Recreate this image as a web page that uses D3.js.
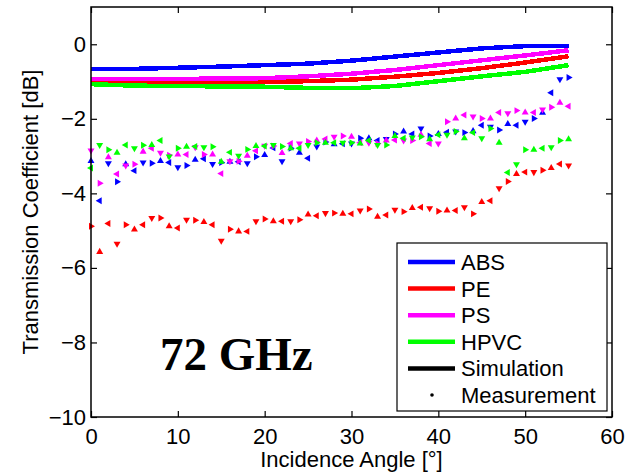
<!DOCTYPE html>
<html>
<head>
<meta charset="utf-8">
<script src="https://cdn.jsdelivr.net/npm/d3@7"></script>
<style>
  body { margin: 0; background: #fff; }
  svg { display: block; font-family: "Liberation Sans", Arial, Helvetica, sans-serif; }
</style>
</head>
<body>
<svg id="chart" width="628" height="472"></svg>
<script>
// Measured transmission, one sample per degree of incidence (0..55°)
const measAngles = d3.range(0, 56);

const absMeas = [-3.13, -4.20, -3.19, -3.69, -3.22, -3.39, -3.17, -3.19, -3.13, -3.17,
                 -3.30, -3.25, -3.10, -3.07, -3.21, -3.17, -3.15, -3.15, -3.19, -3.02,
                 -2.97, -2.78, -3.14, -2.79, -2.91, -3.06, -2.74, -2.62, -2.68, -2.67,
                 -2.66, -2.52, -2.52, -2.58, -2.54, -2.41, -2.34, -2.41, -2.26, -2.46,
                 -2.41, -2.36, -2.34, -2.37, -2.33, -2.17, -2.21, -2.30, -2.14, -2.17,
                 -2.08, -1.99, -1.84, -1.30, -0.94, -0.89];

const peMeas = [-4.88, -5.57, -4.81, -5.35, -4.84, -4.97, -4.84, -4.66, -4.66, -4.88,
                -4.93, -4.71, -4.72, -4.77, -4.84, -5.27, -4.96, -5.02, -5.02, -4.75,
                -4.69, -4.75, -4.75, -4.75, -4.71, -4.57, -4.60, -4.53, -4.53, -4.55,
                -4.55, -4.46, -4.42, -4.63, -4.58, -4.44, -4.49, -4.39, -4.37, -4.40,
                -4.48, -4.46, -4.46, -4.37, -4.55, -4.23, -4.20, -3.86, -3.68, -3.48,
                -3.43, -3.43, -3.38, -3.32, -3.21, -3.25];

const psMeas = [-2.85, -3.73, -3.03, -3.48, -3.25, -3.22, -2.88, -2.79, -2.91, -2.98,
                -2.96, -2.96, -2.76, -2.96, -2.96, -3.47, -3.14, -3.14, -2.99, -2.86,
                -2.72, -2.73, -2.92, -2.66, -2.66, -2.61, -2.58, -2.54, -2.48, -2.46,
                -2.48, -2.64, -2.64, -2.66, -2.58, -2.57, -2.58, -2.58, -2.43, -2.66,
                -2.66, -2.08, -1.99, -1.90, -1.94, -1.99, -1.99, -1.83, -1.85, -1.78,
                -1.83, -1.83, -1.75, -1.69, -1.57, -1.66];

const hpvcMeas = [-3.32, -2.70, -2.83, -2.91, -2.70, -2.79, -2.71, -2.70, -2.58, -3.01,
                  -2.79, -2.75, -2.74, -2.76, -2.75, -3.15, -2.90, -2.99, -2.82, -2.73,
                  -2.73, -2.70, -2.74, -2.79, -2.79, -2.70, -2.64, -2.64, -2.64, -2.64,
                  -2.64, -2.66, -2.58, -2.70, -2.70, -2.46, -2.52, -2.50, -2.48, -2.55,
                  -2.43, -2.43, -2.34, -2.52, -2.37, -2.52, -2.26, -2.64, -3.44, -3.22,
                  -2.83, -2.83, -2.79, -2.76, -2.58, -2.55];

// Simulated transmission
const simAngles = [0, 5, 10, 15, 20, 25, 30, 35, 40, 45, 50, 55];
const absSim  = [-0.67, -0.66, -0.63, -0.60, -0.56, -0.52, -0.44, -0.33, -0.22, -0.11, -0.05, -0.05];
const peSim   = [-1.00, -1.00, -1.01, -1.01, -1.01, -0.99, -0.95, -0.87, -0.77, -0.64, -0.49, -0.32];
const psSim   = [-0.93, -0.93, -0.93, -0.92, -0.91, -0.86, -0.79, -0.69, -0.56, -0.43, -0.30, -0.16];
const hpvcSim = [-1.07, -1.11, -1.12, -1.13, -1.14, -1.17, -1.18, -1.12, -0.99, -0.86, -0.74, -0.56];

const materials = ["ABS", "PE", "PS", "HPVC"];
const colors = ["#0000ff", "#ff0000", "#ff00ff", "#00ff00"];
const simValues = [absSim, peSim, psSim, hpvcSim];
const measValues = [absMeas, peMeas, psMeas, hpvcMeas];

const xTicks = [0, 10, 20, 30, 40, 50, 60];
const yTicks = [0, -2, -4, -6, -8, -10];

const svg = d3.select("#chart");
const x = d3.scaleLinear().domain([0, 60]).range([91, 612]);
const y = d3.scaleLinear().domain([-10, 1]).range([417, 7]);
const FS = 22;
const SANS = '"Liberation Sans", Arial, Helvetica, sans-serif';

// Simulation curves (thick, aliased like the original plot)
const line = d3.line().x(d => x(d[0])).y(d => y(d[1]));
materials.forEach((m, i) => {
  svg.append("path")
    .datum(simAngles.map((a, k) => [a, simValues[i][k]]))
    .attr("d", line)
    .attr("fill", "none")
    .attr("stroke", colors[i])
    .attr("stroke-width", 4.5)
    .attr("shape-rendering", "crispEdges");
});

// Measurement markers: small triangles in alternating orientations
const tri = d3.symbol().type(d3.symbolTriangle).size(21)();
const rotations = [0, 90, 180, 270];
materials.forEach((m, i) => {
  svg.append("g").selectAll("path")
    .data(measAngles.map((a, k) => [a, measValues[i][k], k]))
    .join("path")
    .attr("d", tri)
    .attr("transform", d => `translate(${x(d[0])},${y(d[1])}) rotate(${rotations[(d[2] * 3 + i) % 4]})`)
    .attr("fill", colors[i]);
});

// Axes with inward ticks on all four sides
function styleAxis(g) {
  g.select(".domain").remove();
  g.attr("font-family", null).attr("font-size", null);
  g.selectAll(".tick line").attr("stroke", "#000").attr("stroke-width", 1.2);
  g.selectAll(".tick text").style("font-size", FS + "px").style("font-family", SANS).attr("fill", "#000");
}
svg.append("g").attr("transform", "translate(0,417)")
  .call(d3.axisBottom(x).tickValues(xTicks).tickSize(-6).tickPadding(11).tickFormat(d3.format("d")))
  .call(styleAxis);
svg.append("g").attr("transform", "translate(0,7)")
  .call(d3.axisTop(x).tickValues(xTicks).tickSize(-6).tickFormat(""))
  .call(styleAxis);
svg.append("g").attr("transform", "translate(91,0)")
  .call(d3.axisLeft(y).tickValues(yTicks).tickSize(-6).tickPadding(5).tickFormat(d3.format("d")))
  .call(styleAxis);
svg.append("g").attr("transform", "translate(612,0)")
  .call(d3.axisRight(y).tickValues(yTicks).tickSize(-6).tickFormat(""))
  .call(styleAxis);

// Plot frame
svg.append("rect")
  .attr("x", x(0)).attr("y", y(1))
  .attr("width", x(60) - x(0)).attr("height", y(-10) - y(1))
  .attr("fill", "none").attr("stroke", "#000").attr("stroke-width", 1.5);

// Axis titles
svg.append("text")
  .attr("x", (x(0) + x(60)) / 2).attr("y", 467)
  .attr("text-anchor", "middle").style("font-size", FS + "px").style("font-family", SANS)
  .text("Incidence Angle [°]");
svg.append("text")
  .attr("transform", `translate(38,${(y(1) + y(-10)) / 2}) rotate(-90)`)
  .attr("text-anchor", "middle").style("font-size", FS + "px").style("font-family", SANS)
  .text("Transmission Coefficient [dB]");

// Frequency annotation
svg.append("text")
  .attr("x", 160).attr("y", 370)
  .style("font-family", '"Liberation Serif", "Times New Roman", serif')
  .style("font-weight", "bold").style("font-size", "47px")
  .text("72 GHz");

// Legend
const legendItems = materials.map((m, i) => ({ label: m, color: colors[i], kind: "line" }))
  .concat([{ label: "Simulation", color: "#000", kind: "line" },
           { label: "Measurement", color: "#000", kind: "dot" }]);
const lg = svg.append("g");
lg.append("rect").attr("x", 397).attr("y", 243).attr("width", 210).attr("height", 168)
  .attr("fill", "#fff").attr("stroke", "#000").attr("stroke-width", 1.2);
legendItems.forEach((it, i) => {
  const cy = 262 + i * 26.6;
  if (it.kind === "line") {
    lg.append("line").attr("x1", 408).attr("x2", 455).attr("y1", cy).attr("y2", cy)
      .attr("stroke", it.color).attr("stroke-width", 4.5);
  } else {
    lg.append("circle").attr("cx", 432).attr("cy", cy).attr("r", 1.8).attr("fill", it.color);
  }
  lg.append("text").attr("x", 461).attr("y", cy + 8)
    .style("font-size", FS + "px").style("font-family", SANS).text(it.label);
});
</script>
</body>
</html>
